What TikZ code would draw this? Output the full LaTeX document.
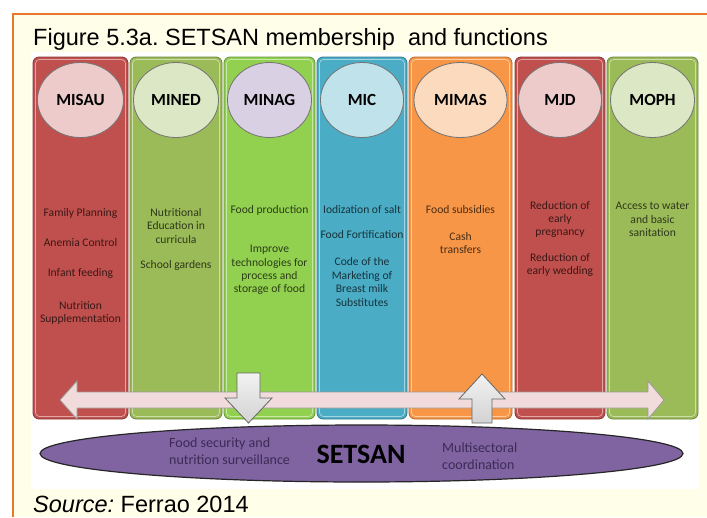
\documentclass[tikz,border=0pt]{standalone}
\usepackage{fontspec}
\setmainfont{Liberation Sans}
\newfontfamily\carlito{Carlito}
\usetikzlibrary{shapes.geometric}
\frenchspacing

\definecolor{frameorange}{HTML}{E8782A}
\definecolor{paper}{HTML}{FFFEE8}
\definecolor{misau}{HTML}{C0504D}
\definecolor{mined}{HTML}{9BBB59}
\definecolor{minag}{HTML}{92D050}
\definecolor{mic}{HTML}{4BACC6}
\definecolor{mimas}{HTML}{F79646}
\definecolor{mjd}{HTML}{C0504D}
\definecolor{moph}{HTML}{9BBB59}
\definecolor{setsan}{HTML}{8064A2}
\definecolor{setsantext}{HTML}{3C2B55}
\definecolor{linkpink}{HTML}{F2DCDB}

\tikzset{
  column/.style={draw=#1!70!black, fill=#1, line width=0.8pt, rounded corners=6pt},
  rim/.style={draw=#1!50!white, line width=0.7pt, rounded corners=4pt},
  badge/.style={ellipse, draw=black!55, line width=0.8pt, fill=#1, inner sep=0pt,
    minimum height=75pt, font=\carlito\bfseries\fontsize{17}{20}\selectfont},
  duty/.style={align=center, inner sep=0pt, text=#1!30!black,
    font=\carlito\fontsize{11.6}{13.4}\selectfont},
  caption/.style={inner sep=0pt, font=\fontsize{23.5}{28}\selectfont},
  blockarrow/.style={draw=black!60, line width=0.8pt, line join=miter}
}

\begin{document}
\begin{tikzpicture}[x=1pt,y=-1pt]
\useasboundingbox (0,0) rectangle (707,517);

% page and frame
\fill[white] (0,0) rectangle (707,517);
\fill[paper] (13,14) rectangle (707,517);
\draw[frameorange, line width=2pt] (13,517) -- (13,14) -- (707,14);

\node[caption, anchor=base west] (title) at (33,45.7)
  {Figure 5.3a. SETSAN membership\ \ and functions};

% picture area
\fill[white] (31,52) rectangle (699,489);

% ministries
\draw[column=misau] (33,57) rectangle (128,419);
\draw[rim=misau] (35.5,59.5) rectangle (125.5,416.5);
\draw[column=mined] (130,57) rectangle (222,419);
\draw[rim=mined] (132.5,59.5) rectangle (219.5,416.5);
\draw[column=minag] (224,57) rectangle (315,419);
\draw[rim=minag] (226.5,59.5) rectangle (312.5,416.5);
\draw[column=mic] (317,57) rectangle (407,419);
\draw[rim=mic] (319.5,59.5) rectangle (404.5,416.5);
\draw[column=mimas] (409,57) rectangle (512,419);
\draw[rim=mimas] (411.5,59.5) rectangle (509.5,416.5);
\draw[column=mjd] (515,57) rectangle (605,419);
\draw[rim=mjd] (517.5,59.5) rectangle (602.5,416.5);
\draw[column=moph] (607,57) rectangle (698,419);
\draw[rim=moph] (609.5,59.5) rectangle (695.5,416.5);

\node[badge=misau!30!white, minimum width=86pt] (misau) at (80.5,100) {MISAU};
\node[badge=mined!35!white, minimum width=85pt] (mined) at (176,100) {MINED};
\node[badge=setsan!30!white, minimum width=84pt] (minag) at (269.5,100) {MINAG};
\node[badge=mic!35!white, minimum width=83pt] (mic) at (362,100) {MIC};
\node[badge=mimas!35!white, minimum width=93pt] (mimas) at (460.5,100) {MIMAS};
\node[badge=mjd!30!white, minimum width=83pt] (mjd) at (560,100) {MJD};
\node[badge=moph!35!white, minimum width=84pt] (moph) at (652.5,100) {MOPH};

% functions
\node[duty=misau] (misau-1) at (80.5,213) {Family Planning};
\node[duty=misau] (misau-2) at (80.5,243) {Anemia Control};
\node[duty=misau] (misau-3) at (80.5,273) {Infant feeding};
\node[duty=misau] (misau-4) at (80.5,313) {Nutrition\\Supplementation};

\node[duty=mined] (mined-1) at (176,226) {Nutritional\\Education in\\curricula};
\node[duty=mined] (mined-2) at (176,265) {School gardens};

\node[duty=minag] (minag-1) at (269.5,210) {Food production};
\node[duty=minag] (minag-2) at (269.5,270)
  {Improve\\technologies for\\process and\\storage of food};

\node[duty=mic] (mic-1) at (362,210) {Iodization of salt};
\node[duty=mic] (mic-2) at (362,235) {Food Fortification};
\node[duty=mic] (mic-3) at (362,282)
  {Code of the\\Marketing of\\Breast milk\\Substitutes};

\node[duty=mimas] (mimas-1) at (460.5,210) {Food subsidies};
\node[duty=mimas] (mimas-2) at (460.5,243) {Cash\\transfers};

\node[duty=mjd] (mjd-1) at (560,219.5) {Reduction of\\early\\pregnancy};
\node[duty=mjd] (mjd-2) at (560,265) {Reduction of\\early wedding};

\node[duty=moph] (moph-1) at (652.5,219.5) {Access to water\\and basic\\sanitation};

% two-way link across the ministries
\draw[blockarrow, fill=linkpink, draw=black!40]
  (60,400) -- (77,381) -- (77,392) -- (648,392) -- (648,381) -- (664,400)
  -- (648,419) -- (648,408) -- (77,408) -- (77,419) -- cycle;

% SETSAN
\node[ellipse, draw=black!85, line width=1.2pt, fill=setsan, inner sep=0pt,
  minimum width=643pt, minimum height=57pt] (setsan) at (361.5,453.5) {};
\node[inner sep=0pt, font=\carlito\bfseries\fontsize{28}{30}\selectfont]
  (setsan-name) at (361,454) {SETSAN};
\node[anchor=west, align=left, inner sep=0pt, text=setsantext,
  font=\carlito\fontsize{14}{17}\selectfont] (surveillance) at (169,451.5)
  {Food security and\\nutrition surveillance};
\node[anchor=west, align=left, inner sep=0pt, text=setsantext,
  font=\carlito\fontsize{14}{17}\selectfont] (coordination) at (442,456.5)
  {Multisectoral\\coordination};

% down and up arrows
\draw[blockarrow, top color=gray!10, bottom color=gray!35]
  (237,373) -- (260,373) -- (260,398) -- (272,398) -- (248.5,423)
  -- (225,398) -- (237,398) -- cycle;
\draw[blockarrow, top color=gray!10, bottom color=gray!35]
  (482,374) -- (505,399) -- (492,399) -- (492,423) -- (472,423)
  -- (472,399) -- (459,399) -- cycle;

\node[caption, anchor=base west] (source) at (33,512)
  {\textit{Source:} Ferrao 2014};

\end{tikzpicture}
\end{document}
